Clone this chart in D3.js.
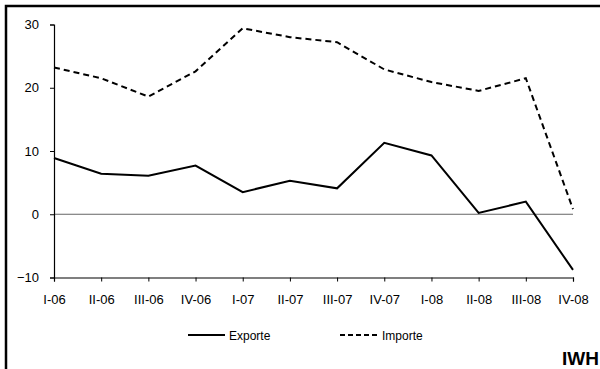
<!DOCTYPE html>
<html><head><meta charset="utf-8">
<script src="https://cdn.jsdelivr.net/npm/d3@7"></script>
<style>body{margin:0;background:#fff}svg{display:block}</style>
</head><body>
<svg id="c" width="600" height="369"></svg>
<script>
const categories = ["I-06","II-06","III-06","IV-06","I-07","II-07","III-07","IV-07","I-08","II-08","III-08","IV-08"];
const exporte = [8.9, 6.4, 6.1, 7.7, 3.5, 5.3, 4.1, 11.3, 9.3, 0.2, 2.0, -8.8];
const importe = [23.2, 21.5, 18.6, 22.6, 29.4, 28.0, 27.2, 22.9, 20.9, 19.5, 21.5, 0.8];
const yTicks = [-10, 0, 10, 20, 30];

const svg = d3.select("#c");
const font = "'Liberation Sans', Arial, sans-serif";

svg.append("rect").attr("x",6).attr("y",6).attr("width",600).attr("height",370)
  .attr("fill","none").attr("stroke","#000").attr("stroke-width",2.5);

const x = d3.scalePoint().domain(categories).range([54, 573]);
const y = d3.scaleLinear().domain([-10, 30]).range([277.5, 24.5]);

// zero line
svg.append("line").attr("x1",54).attr("x2",573).attr("y1",y(0)).attr("y2",y(0))
  .attr("stroke","#666").attr("stroke-width",1);

const yAxis = svg.append("g").attr("transform","translate(54,0)")
  .call(d3.axisLeft(y).tickValues(yTicks).tickSize(4).tickPadding(11).tickFormat(d3.format("d")));
yAxis.select(".domain").attr("stroke-width",1.2);
yAxis.selectAll("text").attr("font-family",font).attr("font-size",13).attr("fill","#000");

const xAxis = svg.append("g").attr("transform",`translate(0,${y(-10)})`)
  .call(d3.axisBottom(x).tickSize(4).tickPadding(13));
xAxis.select(".domain").attr("stroke-width",1.2);
xAxis.selectAll("text").attr("font-family",font).attr("font-size",13).attr("fill","#000");

const line = d3.line().x((d,i)=>x(categories[i])).y(d=>y(d));
svg.append("path").datum(exporte).attr("d",line).attr("fill","none")
  .attr("stroke","#000").attr("stroke-width",2);
svg.append("path").datum(importe).attr("d",line).attr("fill","none")
  .attr("stroke","#000").attr("stroke-width",2).attr("stroke-dasharray","6,4");

// legend
const lg = svg.append("g");
lg.append("line").attr("x1",188).attr("x2",225).attr("y1",335).attr("y2",335)
  .attr("stroke","#000").attr("stroke-width",2);
lg.append("text").attr("x",229).attr("y",339.5).text("Exporte")
  .attr("font-family",font).attr("font-size",12);
lg.append("line").attr("x1",340).attr("x2",378).attr("y1",335).attr("y2",335)
  .attr("stroke","#000").attr("stroke-width",2).attr("stroke-dasharray","5,3");
lg.append("text").attr("x",382).attr("y",339.5).text("Importe")
  .attr("font-family",font).attr("font-size",12);

svg.append("text").attr("x",599).attr("y",365).attr("text-anchor","end").text("IWH")
  .attr("font-family",font).attr("font-size",19).attr("font-weight","bold");
</script>
</body></html>
